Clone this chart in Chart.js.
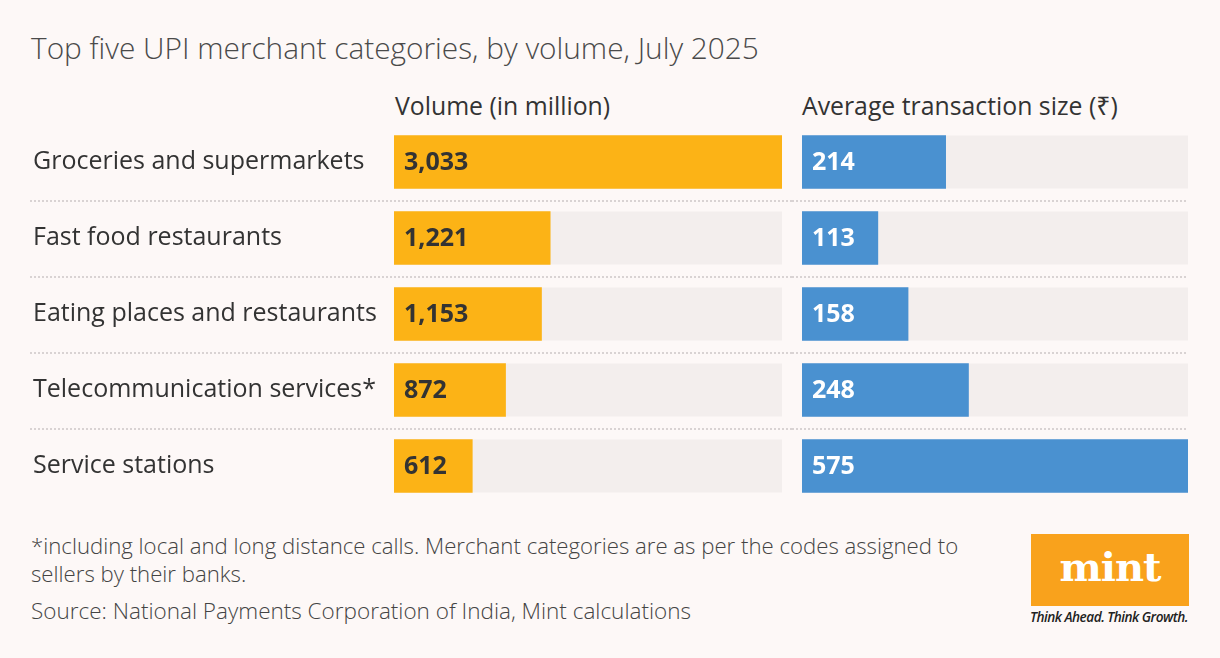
<!DOCTYPE html>
<html>
<head>
<meta charset="utf-8">
<script src="https://cdn.jsdelivr.net/npm/chart.js@4.4.1/dist/chart.umd.min.js"></script>
<style>
  html, body { margin: 0; padding: 0; }
  body {
    width: 1220px; height: 658px; position: relative; overflow: hidden;
    background: #fdf8f7; font-family: "Open Sans", "Noto Sans", sans-serif; color: #333;
  }
  .title { position: absolute; left: 31px; top: 27px; font-size: 29.8px; font-weight: 300; color: #4a4a4a; white-space: nowrap; }
  .head { position: absolute; top: 88px; font-size: 24.8px; font-weight: 400; color: #333; white-space: nowrap; }
  .note { position: absolute; left: 31px; font-size: 22.2px; font-weight: 300; color: #444; line-height: 28px; white-space: nowrap; }
  #left { position: absolute; left: 0; top: 124px; }
  #right { position: absolute; left: 792px; top: 124px; }
  .logo { position: absolute; left: 1031px; top: 534px; width: 158px; height: 72px; background: #f9a21c; }
  .logo span { position: absolute; left: 0; right: 0; top: 9px; text-align: center; color: #fff;
    font-family: "DejaVu Serif", serif; font-weight: bold; font-size: 40px; letter-spacing: -1px; }
  .tag { position: absolute; left: 1030px; top: 607px; font-size: 13.6px; font-style: italic; font-weight: 600;
    color: #222; letter-spacing: -0.5px; white-space: nowrap; }
</style>
</head>
<body>
<div class="title">Top five UPI merchant categories, by volume, July 2025</div>
<div class="head" style="left:395px">Volume (in million)</div>
<div class="head" style="left:802px">Average transaction size (₹)</div>
<canvas id="left"></canvas>
<canvas id="right"></canvas>
<div class="note" style="top:532px">*including local and long distance calls. Merchant categories are as per the codes assigned to<br>sellers by their banks.</div>
<div class="note" style="top:597px; font-size:22.5px">Source: National Payments Corporation of India, Mint calculations</div>
<div class="logo"><span>mint</span></div>
<div class="tag">Think Ahead. Think Growth.</div>

<script>
const categories = [
  'Groceries and supermarkets',
  'Fast food restaurants',
  'Eating places and restaurants',
  'Telecommunication services*',
  'Service stations'
];
const volume = [3033, 1221, 1153, 872, 612];
const avgSize = [214, 113, 158, 248, 575];

const ORANGE = '#fcb316';
const BLUE = '#4a91d0';
const TRACK = '#f3eeed';
const DOTS = '#d9d3d3';

// grey track behind each bar, value text inside, dotted row separators
const barDecor = {
  id: 'barDecor',
  beforeDatasetsDraw(chart, args, opts) {
    const ctx = chart.ctx;
    const area = chart.chartArea;
    const meta = chart.getDatasetMeta(0);
    ctx.save();
    ctx.fillStyle = TRACK;
    meta.data.forEach(function (bar) {
      ctx.fillRect(area.left, bar.y - bar.height / 2, area.right - area.left, bar.height);
    });
    // separators halfway between categories
    const y = chart.scales.y;
    ctx.fillStyle = DOTS;
    for (let i = 1; i < categories.length; i++) {
      const yy = Math.round((y.getPixelForValue(i - 1) + y.getPixelForValue(i)) / 2);
      for (let x = opts.lineFrom; x < opts.lineTo; x += 4) {
        ctx.fillRect(x, yy, 2, 2);
      }
    }
    ctx.restore();
  },
  afterDatasetsDraw(chart, args, opts) {
    const ctx = chart.ctx;
    const meta = chart.getDatasetMeta(0);
    const data = chart.data.datasets[0].data;
    ctx.save();
    ctx.font = 'bold 25px "Open Sans", "Noto Sans", sans-serif';
    ctx.fillStyle = opts.textColor;
    ctx.textBaseline = 'middle';
    ctx.textAlign = 'left';
    meta.data.forEach(function (bar, i) {
      ctx.fillText(data[i].toLocaleString('en-US'), bar.base + 10, bar.y + 1);
    });
    ctx.restore();
  }
};

function makeChart(id, width, values, max, color, showLabels, pad, lineFrom, lineTo, textColor) {
  const canvas = document.getElementById(id);
  canvas.style.width = width + 'px';
  canvas.style.height = '380px';
  return new Chart(canvas, {
    type: 'bar',
    data: {
      labels: categories,
      datasets: [{
        data: values,
        backgroundColor: color,
        borderWidth: 0,
        barThickness: 53
      }]
    },
    options: {
      indexAxis: 'y',
      responsive: false,
      maintainAspectRatio: false,
      animation: false,
      layout: { padding: pad },
      scales: {
        x: { display: false, min: 0, max: max },
        y: {
          display: showLabels,
          grid: { display: false },
          border: { display: false },
          afterFit: function (axis) {
            if (showLabels) axis.width = 361;
            axis.paddingTop = 0;
            axis.paddingBottom = 0;
          },
          ticks: {
            crossAlign: 'far',
            padding: 0,
            color: '#333',
            font: { family: '"Open Sans", "Noto Sans", sans-serif', size: 25 }
          }
        }
      },
      plugins: {
        legend: { display: false },
        tooltip: { enabled: false },
        barDecor: { lineFrom: lineFrom, lineTo: lineTo, textColor: textColor }
      }
    },
    plugins: [barDecor]
  });
}

document.getElementById('left').width = 792;
document.getElementById('left').height = 380;
document.getElementById('right').width = 428;
document.getElementById('right').height = 380;

makeChart('left', 792, volume, 3033, ORANGE, true,
  { left: 33, right: 10, top: 0, bottom: 0 }, 30, 792, '#333');
makeChart('right', 428, avgSize, 575, BLUE, false,
  { left: 10, right: 32, top: 0, bottom: 0 }, 0, 396, '#fff');
</script>
</body>
</html>
